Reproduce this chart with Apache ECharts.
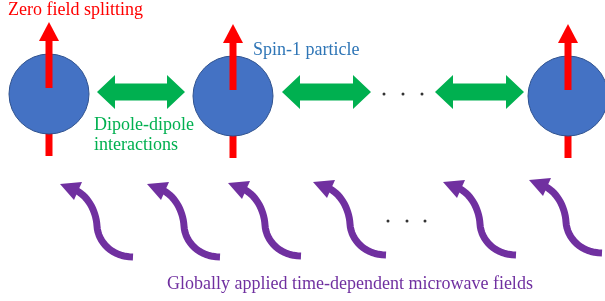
<!DOCTYPE html>
<html>
<head>
<meta charset="utf-8">
<script src="https://cdn.jsdelivr.net/npm/echarts@6.0.0/dist/echarts.min.js"></script>
<style>html,body{margin:0;padding:0;background:#fff}#main{width:605px;height:301px}</style>
</head>
<body>
<div id="main"></div>
<script>
// spin chain positions (same units as the hidden axes)
var particleX = [49, 233, 568];
var particleY = [94, 96, 96];
// dipole-dipole couplings: left tip, right tip, height
var couplingFrom = [97, 282, 435];
var couplingTo = [185, 371, 524];
var couplingY = [92, 92, 92];
// ellipsis dots
var dotsTopX = [384, 403, 422];
var dotsTopY = [94, 94, 94];
var dotsBottomX = [388, 407, 425];
var dotsBottomY = [221, 221, 221];
// microwave field arrows (tip of each arrow)
var fieldTipX = [60, 147, 228, 313, 443, 529];
var fieldTipY = [184, 184, 183, 182, 182, 180];

var chart = echarts.init(document.getElementById('main'));

function zip(a, b) {
    var out = [];
    for (var i = 0; i < a.length; i++) out.push([a[i], b[i]]);
    return out;
}

function cubic(p0, p1, p2, p3, n, out) {
    for (var i = 1; i <= n; i++) {
        var t = i / n, u = 1 - t;
        out.push([
            u*u*u*p0[0] + 3*u*u*t*p1[0] + 3*u*t*t*p2[0] + t*t*t*p3[0],
            u*u*u*p0[1] + 3*u*u*t*p1[1] + 3*u*t*t*p2[1] + t*t*t*p3[1]
        ]);
    }
}

function shift(pts, o) {
    return pts.map(function (p) { return [p[0] + o[0], p[1] + o[1]]; });
}

// red stem below each particle (hidden behind the circle)
function renderStem(params, api) {
    var c = api.coord([api.value(0), api.value(1)]);
    return {
        type: 'rect',
        shape: { x: c[0] - 3.5, y: c[1] + 20, width: 7, height: 42 },
        style: { fill: '#ff0000' }
    };
}

// red spin arrow pointing up
function renderSpin(params, api) {
    var c = api.coord([api.value(0), api.value(1)]);
    return {
        type: 'group',
        children: [{
            type: 'rect',
            shape: { x: c[0] - 3.5, y: c[1] - 54, width: 7, height: 48 },
            style: { fill: '#ff0000' }
        }, {
            type: 'polygon',
            shape: { points: [[c[0] - 10, c[1] - 53], [c[0] + 10, c[1] - 53], [c[0], c[1] - 72]] },
            style: { fill: '#ff0000' }
        }]
    };
}

// green double-headed arrow
function renderCoupling(params, api) {
    var a = api.coord([api.value(0), api.value(2)]);
    var b = api.coord([api.value(1), api.value(2)]);
    var y = a[1], x1 = a[0], x2 = b[0];
    var hl = 18, hh = 17, sh = 8.5;
    return {
        type: 'polygon',
        shape: { points: [
            [x1, y], [x1 + hl, y - hh], [x1 + hl, y - sh], [x2 - hl, y - sh], [x2 - hl, y - hh],
            [x2, y], [x2 - hl, y + hh], [x2 - hl, y + sh], [x1 + hl, y + sh], [x1 + hl, y + hh]
        ] },
        style: { fill: '#00b050' }
    };
}

// purple wavy arrow
function renderField(params, api) {
    var tip = api.coord([api.value(0), api.value(1)]);
    var pts = [[15, 6]];
    cubic([15, 6], [27, 11], [36, 26], [37, 42], 16, pts);
    cubic([37, 42], [38, 58], [52, 73], [73, 73], 16, pts);
    return {
        type: 'group',
        children: [{
            type: 'polyline',
            shape: { points: shift(pts, tip) },
            style: { stroke: '#7030a0', lineWidth: 7, fill: null, lineCap: 'butt', lineJoin: 'round' }
        }, {
            type: 'polygon',
            shape: { points: shift([[0, 0], [22, -2], [14, 16]], tip) },
            style: { fill: '#7030a0' }
        }]
    };
}

function label(x, y, text, color) {
    return {
        type: 'text', x: x, y: y,
        style: { text: text, fill: color, fontFamily: 'Liberation Serif', fontSize: 18 }
    };
}

var option = {
    animation: false,
    backgroundColor: '#fff',
    grid: { left: 0, right: 0, top: 0, bottom: 0 },
    xAxis: { type: 'value', min: 0, max: 605, show: false },
    yAxis: { type: 'value', min: 0, max: 301, inverse: true, show: false },
    series: [
        { type: 'custom', z: 1, renderItem: renderStem, data: zip(particleX, particleY) },
        {
            type: 'scatter', z: 2, symbol: 'circle', symbolSize: 80,
            itemStyle: { color: '#4472c4', borderColor: '#2f528f', borderWidth: 1, opacity: 1 },
            data: zip(particleX, particleY)
        },
        { type: 'custom', z: 3, renderItem: renderSpin, data: zip(particleX, particleY) },
        {
            type: 'custom', z: 3, renderItem: renderCoupling,
            data: couplingFrom.map(function (x, i) { return [x, couplingTo[i], couplingY[i]]; })
        },
        {
            type: 'scatter', z: 3, symbolSize: 3, itemStyle: { color: '#000' },
            data: zip(dotsTopX, dotsTopY).concat(zip(dotsBottomX, dotsBottomY))
        },
        { type: 'custom', z: 3, renderItem: renderField, data: zip(fieldTipX, fieldTipY) }
    ],
    graphic: [
        label(8, 1, 'Zero field splitting', '#ff0000'),
        label(253, 41, 'Spin-1 particle', '#2e75b6'),
        label(94, 116, 'Dipole-dipole', '#00b050'),
        label(94, 136, 'interactions', '#00b050'),
        label(167, 275, 'Globally applied time-dependent microwave fields', '#7030a0')
    ]
};
chart.setOption(option);
</script>
</body>
</html>
